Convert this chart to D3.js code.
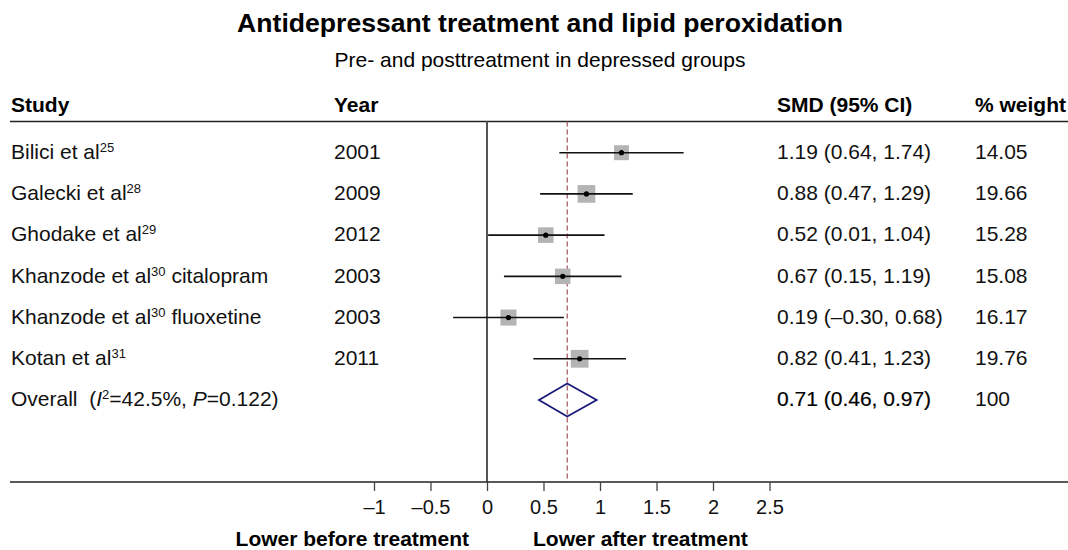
<!DOCTYPE html>
<html>
<head>
<meta charset="utf-8">
<script src="https://d3js.org/d3.v7.min.js"></script>
<style>
  body { margin: 0; background: #fff; }
  svg { display: block; font-family: "Liberation Sans", Arial, sans-serif; }
</style>
</head>
<body>
<svg width="1068" height="550"></svg>
<script>
// study data
var studies = ["Bilici et al", "Galecki et al", "Ghodake et al", "Khanzode et al", "Khanzode et al", "Kotan et al"];
var refs = ["25", "28", "29", "30", "30", "31"];
var suffixes = ["", "", "", " citalopram", " fluoxetine", ""];
var years = [2001, 2009, 2012, 2003, 2003, 2011];
var smd = [1.19, 0.88, 0.52, 0.67, 0.19, 0.82];
var ciLow = [0.64, 0.47, 0.01, 0.15, -0.30, 0.41];
var ciHigh = [1.74, 1.29, 1.04, 1.19, 0.68, 1.23];
var weights = [14.05, 19.66, 15.28, 15.08, 16.17, 19.76];
var overallEst = 0.71, overallLow = 0.46, overallHigh = 0.97;
var tickValues = [-1, -0.5, 0, 0.5, 1, 1.5, 2, 2.5];

var svg = d3.select("svg");
var fs = 21;

var fmt = function(v) { return (v < 0 ? "\u2013" : "") + Math.abs(v).toFixed(2); };
var tickFmt = function(v) { return (v < 0 ? "\u2013" : "") + Math.abs(v); };

var x = d3.scaleLinear().domain([0, 1]).range([487, 600]);
var rows = d3.range(studies.length + 1);
var y = d3.scalePoint().domain(rows).range([152.7, 400]);
var sq = d3.scaleSqrt().domain([0, 19.66]).range([0, 17.7]);

var yTop = 121.5, yAxis = 482;

// title
svg.append("text").attr("x", 540).attr("y", 32).attr("text-anchor", "middle")
  .attr("font-size", 26.6).attr("font-weight", "bold")
  .text("Antidepressant treatment and lipid peroxidation");
svg.append("text").attr("x", 540).attr("y", 66.5).attr("text-anchor", "middle")
  .attr("font-size", fs)
  .text("Pre- and posttreatment in depressed groups");

// headers
var headers = [["Study", 11], ["Year", 334], ["SMD (95% CI)", 777], ["% weight", 975]];
svg.selectAll(".hdr").data(headers).enter().append("text")
  .attr("x", function(d) { return d[1]; }).attr("y", 112)
  .attr("font-size", fs).attr("font-weight", "bold")
  .text(function(d) { return d[0]; });

svg.append("line").attr("x1", 10).attr("x2", 1068).attr("y1", yTop).attr("y2", yTop)
  .attr("stroke", "#222").attr("stroke-width", 1.5);

// null line and overall line
svg.append("line").attr("x1", x(0)).attr("x2", x(0)).attr("y1", yTop).attr("y2", yAxis)
  .attr("stroke", "#555").attr("stroke-width", 2);
svg.append("line").attr("x1", x(overallEst)).attr("x2", x(overallEst)).attr("y1", yTop).attr("y2", yAxis)
  .attr("stroke", "#a0525c").attr("stroke-width", 1.2).attr("stroke-dasharray", "5,3");

// study rows
var g = svg.selectAll(".row").data(studies).enter().append("g");

var names = g.append("text").attr("x", 11).attr("y", function(d, i) { return y(i); })
  .attr("dy", "0.3em").attr("font-size", fs).attr("fill", "#111");
names.append("tspan").text(function(d) { return d; });
names.append("tspan").attr("font-size", 13).attr("dy", "-0.55em").text(function(d, i) { return refs[i]; });
names.append("tspan").attr("dy", "0.34em").text(function(d, i) { return suffixes[i]; });

g.append("text").attr("x", 334).attr("y", function(d, i) { return y(i); })
  .attr("dy", "0.3em").attr("font-size", fs).attr("fill", "#111")
  .text(function(d, i) { return years[i]; });

g.append("text").attr("x", 777).attr("y", function(d, i) { return y(i); })
  .attr("dy", "0.3em").attr("font-size", fs).attr("fill", "#111")
  .text(function(d, i) { return fmt(smd[i]) + " (" + fmt(ciLow[i]) + ", " + fmt(ciHigh[i]) + ")"; });

g.append("text").attr("x", 975).attr("y", function(d, i) { return y(i); })
  .attr("dy", "0.3em").attr("font-size", fs).attr("fill", "#111")
  .text(function(d, i) { return weights[i].toFixed(2); });

g.append("rect")
  .attr("x", function(d, i) { return x(smd[i]) - sq(weights[i]) / 2; })
  .attr("y", function(d, i) { return y(i) - sq(weights[i]) / 2; })
  .attr("width", function(d, i) { return sq(weights[i]); })
  .attr("height", function(d, i) { return sq(weights[i]); })
  .attr("fill", "#b4b4b4");

g.append("line")
  .attr("x1", function(d, i) { return x(ciLow[i]); })
  .attr("x2", function(d, i) { return x(ciHigh[i]); })
  .attr("y1", function(d, i) { return y(i); })
  .attr("y2", function(d, i) { return y(i); })
  .attr("stroke", "#111").attr("stroke-width", 1.6);

g.append("circle")
  .attr("cx", function(d, i) { return x(smd[i]); })
  .attr("cy", function(d, i) { return y(i); })
  .attr("r", 2.6).attr("fill", "#000");

// overall row
var oy = y(studies.length);
var ov = svg.append("text").attr("x", 11).attr("y", oy).attr("dy", "0.3em")
  .attr("font-size", fs).attr("fill", "#111");
ov.append("tspan").text("Overall\u00a0\u00a0(");
ov.append("tspan").attr("font-style", "italic").text("I");
ov.append("tspan").attr("font-size", 13).attr("dy", "-0.55em").text("2");
ov.append("tspan").attr("dy", "0.34em").text("=42.5%, ");
ov.append("tspan").attr("font-style", "italic").text("P");
ov.append("tspan").text("=0.122)");

svg.append("text").attr("x", 777).attr("y", oy).attr("dy", "0.3em")
  .attr("font-size", fs).attr("fill", "#000").attr("stroke", "#000").attr("stroke-width", 0.2)
  .text(fmt(overallEst) + " (" + fmt(overallLow) + ", " + fmt(overallHigh) + ")");
svg.append("text").attr("x", 975).attr("y", oy).attr("dy", "0.3em")
  .attr("font-size", fs).attr("fill", "#111").text("100");

svg.append("path")
  .attr("d", d3.line()([[x(overallLow), oy], [x(overallEst), oy - 16.5], [x(overallHigh), oy], [x(overallEst), oy + 16.5]]) + "Z")
  .attr("fill", "none").attr("stroke", "#1a1a7a").attr("stroke-width", 1.8);

// bottom axis
svg.append("line").attr("x1", 10).attr("x2", 1068).attr("y1", yAxis).attr("y2", yAxis)
  .attr("stroke", "#222").attr("stroke-width", 1.5);

var axis = svg.append("g").attr("transform", "translate(0," + yAxis + ")")
  .call(d3.axisBottom(x).tickValues(tickValues).tickFormat(tickFmt).tickSize(9).tickPadding(9));
axis.select(".domain").remove();
axis.selectAll(".tick line").attr("stroke", "#444").attr("stroke-width", 1.3);
axis.selectAll(".tick text").attr("font-size", 20).attr("font-family", "Liberation Sans, Arial, sans-serif").attr("fill", "#111");

svg.append("text").attr("x", x(0) - 18).attr("y", 546).attr("text-anchor", "end")
  .attr("font-size", fs).attr("font-weight", "bold").text("Lower before treatment");
svg.append("text").attr("x", x(0) + 46).attr("y", 546).attr("text-anchor", "start")
  .attr("font-size", fs).attr("font-weight", "bold").text("Lower after treatment");
</script>
</body>
</html>
